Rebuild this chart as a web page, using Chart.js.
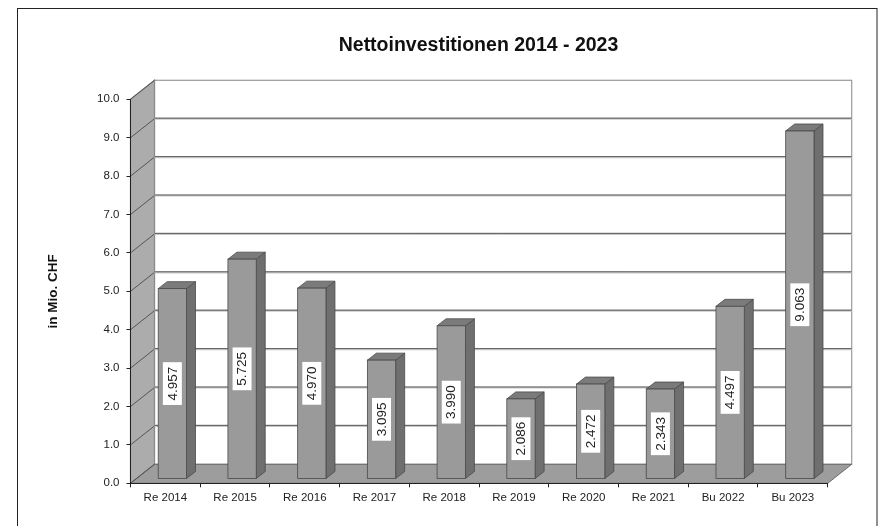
<!DOCTYPE html>
<html>
<head>
<meta charset="utf-8">
<script src="https://cdn.jsdelivr.net/npm/chart.js@4"></script>
<style>
html, body { margin: 0; padding: 0; background: #fff; }
</style>
</head>
<body>
<canvas id="myChart" width="879" height="526"></canvas>
<script>
const categories = ['Re 2014', 'Re 2015', 'Re 2016', 'Re 2017', 'Re 2018', 'Re 2019', 'Re 2020', 'Re 2021', 'Bu 2022', 'Bu 2023'];
const values = [4.957, 5.725, 4.970, 3.095, 3.990, 2.086, 2.472, 2.343, 4.497, 9.063];
const valueLabels = ['4.957', '5.725', '4.970', '3.095', '3.990', '2.086', '2.472', '2.343', '4.497', '9.063'];
const chartTitle = 'Nettoinvestitionen 2014 - 2023';
const yTitle = 'in Mio. CHF';
const yMin = 0;
const yMax = 10;
const yStep = 1;

const FONT = "'Liberation Sans', Arial, sans-serif";
// depth of the "room" and of the bars
const DX = 24, DY = -19;
const BX0 = 7, BY0 = -4.3;   // bar front face offset
const BDX = 9, BDY = -7;     // bar depth

// walls, floor and back gridlines
const room3d = {
    id: 'room3d',
    beforeDraw(chart) {
        const ctx = chart.ctx;
        const a = chart.chartArea;
        const ys = chart.scales.y;
        const L = a.left, R = a.right;
        const y0 = ys.getPixelForValue(yMin), yT = ys.getPixelForValue(yMax);
        ctx.save();
        ctx.fillStyle = '#fff';
        ctx.fillRect(0, 0, chart.width, chart.height);
        // outer frame
        ctx.strokeStyle = '#222';
        ctx.lineWidth = 1;
        ctx.strokeRect(17.5, 8.5, 859.5, 540);

        // title (centred over the room, not the canvas)
        ctx.fillStyle = '#111';
        ctx.font = 'bold 19.5px ' + FONT;
        ctx.textAlign = 'center';
        ctx.textBaseline = 'middle';
        ctx.fillText(chartTitle, 478.5, 46);

        // back wall
        ctx.fillStyle = '#fff';
        ctx.fillRect(L + DX, yT + DY, R - L, y0 - yT);
        ctx.strokeStyle = '#9a9a9a';
        ctx.lineWidth = 1.2;
        ctx.strokeRect(L + DX, yT + DY, R - L, y0 - yT);

        // left wall
        ctx.beginPath();
        ctx.moveTo(L, yT);
        ctx.lineTo(L + DX, yT + DY);
        ctx.lineTo(L + DX, y0 + DY);
        ctx.lineTo(L, y0);
        ctx.closePath();
        ctx.fillStyle = '#acacac';
        ctx.fill();
        ctx.strokeStyle = '#8a8a8a';
        ctx.stroke();

        // floor
        ctx.beginPath();
        ctx.moveTo(L, y0);
        ctx.lineTo(L + DX, y0 + DY);
        ctx.lineTo(R + DX, y0 + DY);
        ctx.lineTo(R, y0);
        ctx.closePath();
        ctx.fillStyle = '#9d9d9d';
        ctx.fill();
        ctx.strokeStyle = '#6a6a6a';
        ctx.lineWidth = 1;
        ctx.stroke();

        // gridlines
        for (let v = yMin; v <= yMax; v += yStep) {
            const y = ys.getPixelForValue(v);
            ctx.strokeStyle = '#555';
            ctx.lineWidth = 1;
            ctx.beginPath();
            ctx.moveTo(L, y);
            ctx.lineTo(L + DX, y + DY);
            ctx.stroke();
            if (v > yMin && v < yMax) {
                ctx.strokeStyle = '#c8c8c8';
                ctx.lineWidth = 2.2;
                ctx.beginPath();
                ctx.moveTo(L + DX, y + DY);
                ctx.lineTo(R + DX, y + DY);
                ctx.stroke();
                ctx.strokeStyle = '#5e5e5e';
                ctx.lineWidth = 1;
                ctx.beginPath();
                ctx.moveTo(L + DX, y + DY - 0.5);
                ctx.lineTo(R + DX, y + DY - 0.5);
                ctx.stroke();
            }
        }
        ctx.restore();
    },
    afterDatasetsDraw(chart) {
        const ctx = chart.ctx;
        const meta = chart.getDatasetMeta(0);
        ctx.save();
        meta.data.forEach((bar, i) => {
            const p = bar.getProps(['x', 'y', 'base', 'width'], true);
            const x0 = p.x - p.width / 2 + BX0, x1 = p.x + p.width / 2 + BX0;
            const yt = p.y + BY0, yb = p.base + BY0;
            ctx.lineWidth = 0.8;
            ctx.strokeStyle = '#4a4a4a';
            // side
            ctx.beginPath();
            ctx.moveTo(x1, yt);
            ctx.lineTo(x1 + BDX, yt + BDY);
            ctx.lineTo(x1 + BDX, yb + BDY);
            ctx.lineTo(x1, yb);
            ctx.closePath();
            ctx.fillStyle = '#6f6f6f';
            ctx.fill();
            ctx.stroke();
            // top
            ctx.beginPath();
            ctx.moveTo(x0, yt);
            ctx.lineTo(x0 + BDX, yt + BDY);
            ctx.lineTo(x1 + BDX, yt + BDY);
            ctx.lineTo(x1, yt);
            ctx.closePath();
            ctx.fillStyle = '#7b7b7b';
            ctx.fill();
            ctx.stroke();
            // front
            ctx.fillStyle = '#9a9a9a';
            ctx.fillRect(x0, yt, x1 - x0, yb - yt);
            ctx.strokeRect(x0, yt, x1 - x0, yb - yt);

            // value label, rotated
            const cx = (x0 + x1) / 2, cy = (yt + yb) / 2;
            ctx.save();
            ctx.translate(cx, cy);
            ctx.rotate(-Math.PI / 2);
            ctx.font = '13.5px ' + FONT;
            const tw = ctx.measureText(valueLabels[i]).width;
            ctx.fillStyle = '#fff';
            ctx.fillRect(-tw / 2 - 4.5, -9.5, tw + 9, 19);
            ctx.fillStyle = '#222';
            ctx.textAlign = 'center';
            ctx.textBaseline = 'middle';
            ctx.fillText(valueLabels[i], 0, 0.5);
            ctx.restore();
        });
        ctx.restore();
    }
};

const ctx = document.getElementById('myChart').getContext('2d');
const myChart = new Chart(ctx, {
    type: 'bar',
    data: {
        labels: categories,
        datasets: [{
            data: values,
            backgroundColor: 'rgba(0,0,0,0)',
            borderWidth: 0,
            categoryPercentage: 1,
            barPercentage: 0.406
        }]
    },
    options: {
        responsive: false,
        animation: false,
        events: [],
        layout: { padding: { left: 0, right: 51.3, top: 99.3, bottom: 0 } },
        plugins: {
            legend: { display: false },
            tooltip: { enabled: false },
            title: { display: false }
        },
        scales: {
            x: {
                grid: { display: true, drawOnChartArea: false, drawTicks: true, tickLength: 4, color: '#222', offset: true },
                border: { display: true, color: '#222', width: 1 },
                ticks: { color: '#222', padding: 3.5, font: { family: FONT, size: 11.5 }, maxRotation: 0 },
                afterFit(scale) { scale.height = 42.7; }
            },
            y: {
                min: yMin,
                max: yMax,
                grid: { display: true, drawOnChartArea: false, drawTicks: true, tickLength: 4, color: '#222' },
                border: { display: true, color: '#222', width: 1 },
                ticks: {
                    stepSize: yStep,
                    color: '#222',
                    padding: 7,
                    font: { family: FONT, size: 11.5 },
                    callback: v => v.toFixed(1)
                },
                title: {
                    display: true,
                    text: yTitle,
                    color: '#111',
                    font: { family: FONT, size: 13.5, weight: 'bold' },
                    padding: { top: 45, bottom: 0 }
                },
                afterFit(scale) { scale.width = 130.5; }
            }
        }
    },
    plugins: [room3d]
});
</script>
</body>
</html>
